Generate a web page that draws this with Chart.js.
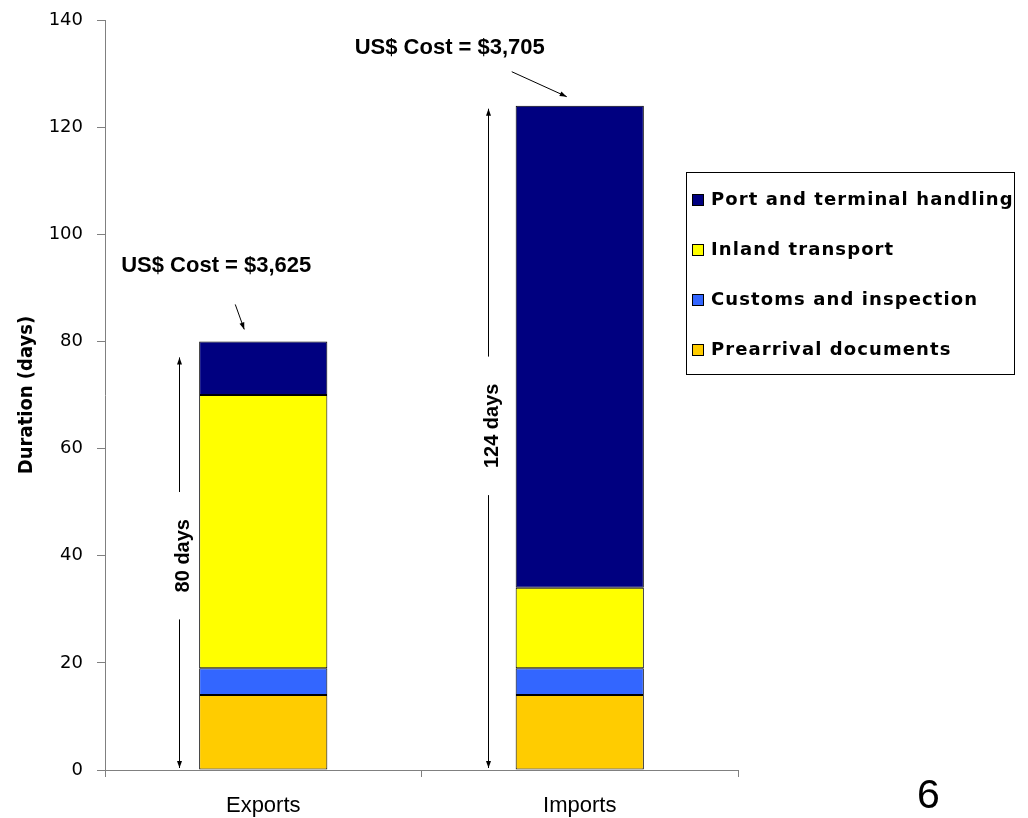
<!DOCTYPE html>
<html>
<head>
<meta charset="utf-8">
<script src="https://cdn.jsdelivr.net/npm/chart.js@4"></script>
<style>
  html, body { margin: 0; padding: 0; background: #fff; }
  #wrap { position: relative; width: 1028px; height: 818px; }
  #pageNo { position: absolute; left: 917px; top: 771px; font: 41px "Liberation Sans", Arial, sans-serif; color: #000; }
</style>
</head>
<body>
<div id="wrap">
  <canvas id="c" width="1028" height="818"></canvas>
  <div id="pageNo">6</div>
</div>
<script>
// Categories and stacked durations (days)
const categories = ['Exports', 'Imports'];
const prearrival = [14, 14];
const customs = [5, 5];
const inland = [51, 15];
const port = [10, 90];
const costLabels = ['US$ Cost = $3,625', 'US$ Cost = $3,705'];
const yTicks = [0, 20, 40, 60, 80, 100, 120, 140];

const seriesNames = ['Prearrival documents', 'Customs and inspection', 'Inland transport', 'Port and terminal handling'];
const seriesColors = ['#FFCC00', '#3366FF', '#FFFF00', '#000080'];
const seriesData = [prearrival, customs, inland, port];

const totals = categories.map((_, i) => seriesData.reduce((s, d) => s + d[i], 0));

function arrowHead(ctx, x, y, angle, len, half) {
  ctx.beginPath();
  ctx.moveTo(x, y);
  ctx.lineTo(x - len * Math.cos(angle) + half * Math.sin(angle), y - len * Math.sin(angle) - half * Math.cos(angle));
  ctx.lineTo(x - len * Math.cos(angle) - half * Math.sin(angle), y - len * Math.sin(angle) + half * Math.cos(angle));
  ctx.closePath();
  ctx.fill();
}

function arrowLine(ctx, x1, y1, x2, y2) {
  ctx.beginPath();
  ctx.moveTo(x1, y1);
  ctx.lineTo(x2, y2);
  ctx.stroke();
  arrowHead(ctx, x2, y2, Math.atan2(y2 - y1, x2 - x1), 7, 2.5);
}

// Per-category placement of the duration arrows and cost notes
const notes = [
  { arrowDx: -84, arrowTopDy: 16, textDy: 0, textDx: -80,
    cost: { dx: -47, dy: -75 }, ptr: { x1: -28, y1: -37, x2: -19, y2: -12 } },
  { arrowDx: -92, arrowTopDy: 3, textDy: -12, textDx: -87,
    cost: { dx: -130, dy: -58 }, ptr: { x1: -68, y1: -34, x2: -13, y2: -9 } }
];

const annotations = {
  id: 'annotations',
  afterDatasetsDraw(chart) {
    const ctx = chart.ctx;
    const xs = chart.scales.x, ys = chart.scales.y;
    const y0 = ys.getPixelForValue(0);
    ctx.save();
    ctx.strokeStyle = '#000';
    ctx.fillStyle = '#000';
    ctx.lineWidth = 1;
    categories.forEach((cat, i) => {
      const n = notes[i];
      const cx = xs.getPixelForValue(i);
      const top = ys.getPixelForValue(totals[i]);
      const ax = Math.round(cx + n.arrowDx) + 0.5;
      const aTop = top + n.arrowTopDy;
      const aBot = y0 - 2;
      const label = totals[i] + ' days';
      ctx.font = 'bold 20px "Liberation Sans", Arial, sans-serif';
      const tw = ctx.measureText(label).width;
      const mid = (top + y0) / 2 + n.textDy;
      const gap = tw / 2 + 27;
      arrowLine(ctx, ax, mid - gap, ax, aTop);
      arrowLine(ctx, ax, mid + gap, ax, aBot);
      ctx.save();
      ctx.translate(cx + n.textDx, mid);
      ctx.rotate(-Math.PI / 2);
      ctx.textAlign = 'center';
      ctx.textBaseline = 'middle';
      ctx.fillText(label, 0, 0);
      ctx.restore();
      // cost note with pointer to the bar top
      ctx.font = 'bold 22px "Liberation Sans", Arial, sans-serif';
      ctx.textAlign = 'center';
      ctx.textBaseline = 'middle';
      ctx.fillText(costLabels[i], cx + n.cost.dx, top + n.cost.dy);
      arrowLine(ctx, cx + n.ptr.x1, top + n.ptr.y1, cx + n.ptr.x2, top + n.ptr.y2);
    });
    ctx.restore();
  }
};

// Boxed legend on the right, top series first
const boxLegend = {
  id: 'boxLegend',
  afterDraw(chart) {
    const ctx = chart.ctx;
    const left = 686.5, top = 172.5, w = 328, h = 202;
    ctx.save();
    ctx.strokeStyle = '#000';
    ctx.lineWidth = 1;
    ctx.strokeRect(left, top, w, h);
    ctx.font = 'bold 18px "DejaVu Sans", Verdana, sans-serif';
    ctx.letterSpacing = '1.1px';
    ctx.textBaseline = 'middle';
    ctx.textAlign = 'left';
    const order = [3, 2, 1, 0];
    order.forEach((k, r) => {
      const y = top + 27 + r * 50;
      ctx.fillStyle = seriesColors[k];
      ctx.fillRect(692.5, y - 5, 11, 11);
      ctx.strokeStyle = '#000';
      ctx.strokeRect(692.5, y - 5, 11, 11);
      ctx.fillStyle = '#000';
      ctx.fillText(seriesNames[k], 711, y + 1);
    });
    ctx.restore();
  }
};

new Chart(document.getElementById('c'), {
  type: 'bar',
  data: {
    labels: categories,
    datasets: seriesNames.map((name, k) => ({
      label: name,
      data: seriesData[k],
      backgroundColor: seriesColors[k],
      borderColor: '#000',
      borderWidth: 1,
      borderSkipped: false,
      categoryPercentage: 1,
      barPercentage: 0.405
    }))
  },
  options: {
    responsive: false,
    animation: false,
    layout: { padding: { left: 0, right: 290, top: 20, bottom: 0 } },
    plugins: { legend: { display: false }, tooltip: { enabled: false } },
    scales: {
      x: {
        stacked: true,
        afterFit(s) { s.height = 48; },
        grid: { drawOnChartArea: false, drawTicks: true, tickLength: 7, color: '#808080', offset: true },
        border: { color: '#808080', width: 1 },
        ticks: { color: '#000', padding: 16, font: { family: '"Liberation Sans", Arial, sans-serif', size: 22 } }
      },
      y: {
        stacked: true,
        min: 0, max: 140,
        afterFit(s) { s.width = 105; s.paddingTop = 10; s.paddingBottom = 10; },
        afterBuildTicks(s) { s.ticks = yTicks.map(v => ({ value: v })); },
        grid: { drawOnChartArea: false, drawTicks: true, tickLength: 8, color: '#808080' },
        border: { color: '#808080', width: 1 },
        ticks: { color: '#000', padding: 14, font: { family: '"DejaVu Sans", sans-serif', size: 18 } },
        title: {
          display: true, text: 'Duration (days)', color: '#000', padding: { top: 15, bottom: 0 },
          font: { family: '"DejaVu Sans Condensed", "Liberation Sans", sans-serif', size: 20, weight: 'bold' }
        }
      }
    }
  },
  plugins: [annotations, boxLegend]
});
</script>
</body>
</html>
